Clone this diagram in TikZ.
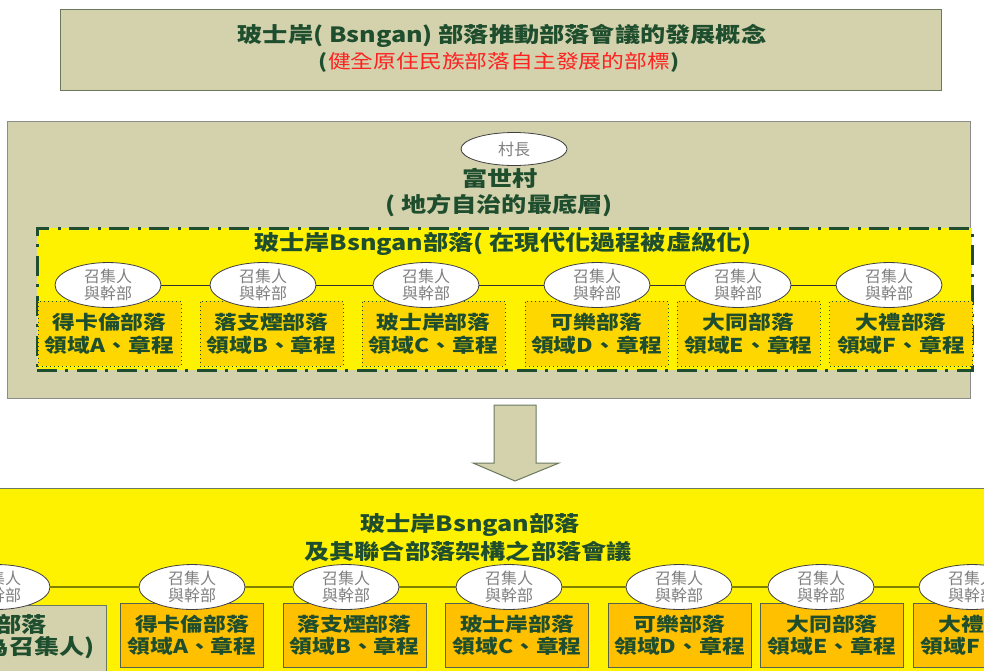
\documentclass[tikz,border=0pt]{standalone}
\usepackage{fontspec}
\setmainfont{Noto Sans CJK TC}
\newfontfamily\widefont[FakeStretch=1.2]{Noto Sans CJK TC}
\usetikzlibrary{shapes.geometric}
\definecolor{khaki}{HTML}{D3D2AC}
\definecolor{dkgreen}{HTML}{1F4E2E}
\definecolor{boxborder}{HTML}{6B7A5E}
\definecolor{goldbox}{HTML}{FFD700}
\definecolor{amberbox}{HTML}{FFC000}
\definecolor{oliveline}{HTML}{7F7F00}
\definecolor{greytext}{HTML}{7F7F7F}
\definecolor{redtext}{HTML}{FF2020}
\begin{document}
\begin{tikzpicture}[x=1pt,y=-1pt,
  panel/.style={draw=boxborder, line width=1pt, fill=khaki, inner sep=0pt},
  bigtxt/.style={text=dkgreen, font=\widefont\bfseries\fontsize{21}{23}\selectfont, inner sep=0pt},
  subtxt/.style={text=dkgreen, font=\widefont\bfseries\fontsize{19}{21}\selectfont, inner sep=0pt},
  ell/.style={ellipse, draw=black!75, line width=0.8pt, fill=white, minimum width=106pt, minimum height=34pt, inner sep=0pt, text=greytext, align=center, font=\fontsize{16}{17}\selectfont},
  dotbox/.style={draw=dkgreen, line width=1pt, dash pattern=on 1pt off 3pt, fill=goldbox, minimum width=143pt, minimum height=65pt, inner sep=0pt, align=center, text=dkgreen, font=\widefont\bfseries\fontsize{19}{23}\selectfont},
  ambox/.style={draw=boxborder!80!black, line width=1pt, fill=amberbox, minimum width=143pt, minimum height=64pt, inner sep=0pt, align=center, text=dkgreen, font=\widefont\bfseries\fontsize{19}{22}\selectfont},
  linkline/.style={draw=black!80, line width=0.8pt},
  linkline2/.style={draw=oliveline, line width=2pt}
]
\useasboundingbox (0,0) rectangle (984,670);
\clip (0,0) rectangle (984,670);
\fill[white] (0,0) rectangle (984,670);

% top title panel
\node[panel, minimum width=881pt, minimum height=81pt] (top) at (500.5,49.5) {};
\node[bigtxt] (t1) at (502,36) {玻士岸( Bsngan) 部落推動部落會議的發展概念};
\node[subtxt] (t2) at (499,62) {(\textcolor{redtext}{\mdseries 健全原住民族部落自主發展的部標})};

% middle panel
\node[panel, draw=black!45, minimum width=963pt, minimum height=277pt] (mid) at (488.5,259.5) {};
\node[ell, minimum height=33pt] (chief) at (514,149) {村長};
\node[bigtxt] (m1) at (500,178) {富世村};
\node[bigtxt] (m2) at (499,205) {( 地方自治的最底層)};
\node[draw=dkgreen, line width=3pt, dash pattern=on 20pt off 8pt on 3pt off 9pt, fill=yellow, minimum width=935pt, minimum height=142pt, inner sep=0pt] (dash) at (504.5,299) {};
\node[bigtxt] (m3) at (503,244) {玻士岸Bsngan部落( 在現代化過程被虛級化)};

\foreach \i/\bx/\na/\nb in {1/109.5/得卡倫部落/A,2/271.5/落支煙部落/B,3/433.5/玻士岸部落/C,4/596.5/可樂部落/D,5/748.5/大同部落/E,6/901/大禮部落/F}{
  \node[dotbox] (mb\i) at (\bx,333.5) {\na\\領域\nb、章程};
}
\foreach \i/\ex in {1/108,2/263,3/426,4/597,5/738,6/889}{
  \node[ell] (me\i) at (\ex,285) {召集人\\與幹部};
}
\foreach \a/\b in {1/2,2/3,3/4,4/5,5/6}{
  \draw[linkline] (me\a.east) -- (me\b.west);
}

% arrow between panels
\coordinate (a1) at (494,405);
\coordinate (a2) at (536,405);
\coordinate (a3) at (536,463);
\coordinate (a4) at (559,463);
\coordinate (a5) at (515,481);
\coordinate (a6) at (473,463);
\coordinate (a7) at (494,463);
\draw[draw=boxborder, line width=1pt, fill=khaki] (a1) -- (a2) -- (a3) -- (a4) -- (a5) -- (a6) -- (a7) -- cycle;

% bottom panel
\node[draw=boxborder, line width=1pt, fill=yellow, minimum width=1000pt, minimum height=200pt, inner sep=0pt] (bot) at (490,588) {};
\node[bigtxt] (b1) at (470,525) {玻士岸Bsngan部落};
\node[bigtxt] (b2) at (468,552) {及其聯合部落架構之部落會議};

\node[panel, minimum width=218pt, minimum height=80pt] (bb0) at (-3,645) {};
\node[bigtxt, anchor=east] (bb0a) at (47,624) {部落};
\node[bigtxt, anchor=east] (bb0b) at (95,648) {為召集人)};

\foreach \i/\bx/\na/\nb in {1/192/得卡倫部落/A,2/354.5/落支煙部落/B,3/517/玻士岸部落/C,4/679.5/可樂部落/D,5/832/大同部落/E,6/984.5/大禮部落/F}{
  \node[ambox] (bb\i) at (\bx,635) {\na\\領域\nb、章程};
}
\foreach \i/\ex in {0/-3,1/192,2/346,3/509,4/679,5/821,6/972}{
  \node[ell, minimum height=35pt] (be\i) at (\ex,587) {召集人\\與幹部};
}
\foreach \a/\b in {0/1,1/2,2/3,3/4,4/5,5/6}{
  \draw[linkline2] (be\a.east) -- (be\b.west);
}
\end{tikzpicture}
\end{document}
